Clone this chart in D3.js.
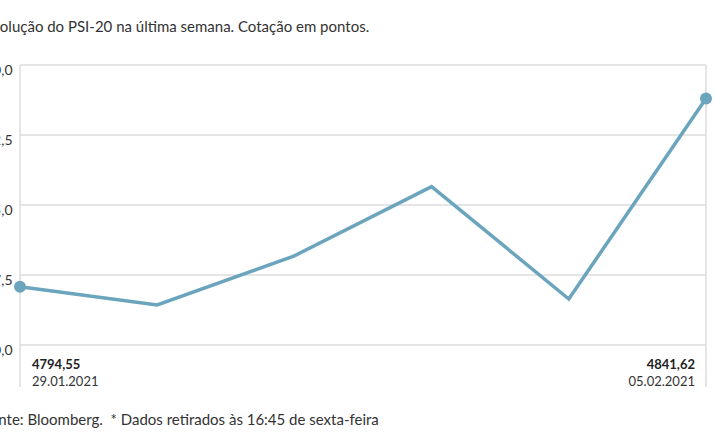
<!DOCTYPE html>
<html><head><meta charset="utf-8">
<script src="https://cdn.jsdelivr.net/npm/d3@7"></script>
<style>
html,body{margin:0;padding:0;background:#fff;overflow:hidden}
svg{display:block;font-family:Lato,"Open Sans",sans-serif}
text{white-space:pre}
</style></head><body>
<svg id="c" width="715" height="445"></svg>
<script>
const dates = ["29.01.2021","01.02.2021","02.02.2021","03.02.2021","04.02.2021","05.02.2021"];
const values = [4794.55, 4790.0, 4802.3, 4819.6, 4791.5, 4841.62];
const yTicks = [4780, 4797.5, 4815, 4832.5, 4850];
const title = "Evolução do PSI-20 na última semana. Cotação em pontos.";
const source = "Fonte: Bloomberg.  * Dados retirados às 16:45 de sexta-feira";

const svg = d3.select("#c");
const x = d3.scalePoint().domain(dates).range([20, 706]);
const y = d3.scaleLinear().domain([4780, 4850]).range([345, 65]);
const fmt = v => d3.format(".1f")(v).replace(".", ",");
const fmt2 = v => d3.format(".2f")(v).replace(".", ",");

svg.append("text").attr("x", -16).attr("y", 32).attr("font-size", 15).attr("fill", "#333").text(title);

const grid = svg.append("g");
grid.selectAll("line").data(yTicks).join("line")
  .attr("x1", 20).attr("x2", 706).attr("y1", d => y(d)).attr("y2", d => y(d))
  .attr("stroke", "#dcdcdc").attr("stroke-width", 1.5);
grid.selectAll("text").data(yTicks).join("text")
  .attr("x", 12.5).attr("y", d => y(d) + 10).attr("text-anchor", "end")
  .attr("font-size", 14).attr("fill", "#333").text(fmt);

svg.append("line").attr("x1", 20).attr("x2", 20).attr("y1", 65).attr("y2", 387).attr("stroke", "#dcdcdc").attr("stroke-width", 1.5);
svg.append("line").attr("x1", 706).attr("x2", 706).attr("y1", 65).attr("y2", 387).attr("stroke", "#dcdcdc").attr("stroke-width", 1.5);

const line = d3.line().x((d, i) => x(dates[i])).y(d => y(d));
svg.append("path").datum(values).attr("d", line).attr("fill", "none")
  .attr("stroke", "#6aa5bd").attr("stroke-width", 3.5).attr("stroke-linejoin", "miter");

const ends = [0, values.length - 1];
svg.selectAll("circle.e").data(ends).join("circle")
  .attr("cx", i => x(dates[i])).attr("cy", i => y(values[i])).attr("r", 6).attr("fill", "#6aa5bd");

svg.append("text").attr("x", 32).attr("y", 369).attr("font-size", 13).attr("font-weight", "bold").attr("fill", "#222").text(fmt2(values[0]));
svg.append("text").attr("x", 32).attr("y", 386).attr("font-size", 13).attr("fill", "#333").text(dates[0]);
svg.append("text").attr("x", 695).attr("y", 369).attr("text-anchor", "end").attr("font-size", 13).attr("font-weight", "bold").attr("fill", "#222").text(fmt2(values[5]));
svg.append("text").attr("x", 695).attr("y", 386).attr("text-anchor", "end").attr("font-size", 13).attr("fill", "#333").text(dates[5]);

svg.append("text").attr("x", -18).attr("y", 425).attr("font-size", 15).attr("fill", "#333").text(source);
</script></body></html>
